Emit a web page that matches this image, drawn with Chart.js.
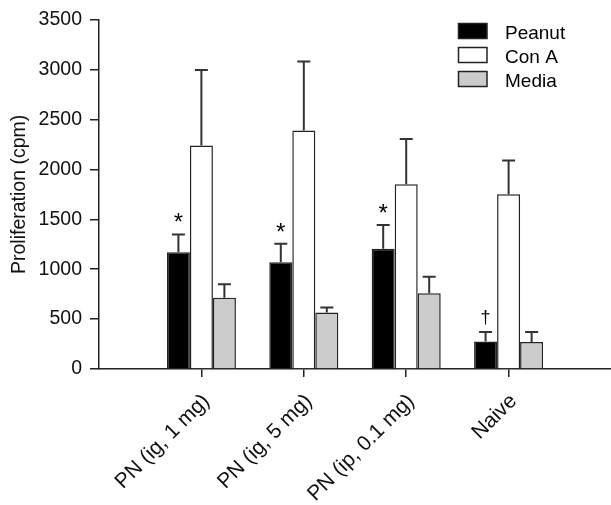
<!DOCTYPE html>
<html>
<head>
<meta charset="utf-8">
<script src="https://cdn.jsdelivr.net/npm/chart.js@4/dist/chart.umd.min.js"></script>
<style>
  html, body { margin: 0; padding: 0; background: #fff; overflow: hidden; }
  #wrap { width: 611px; height: 505px; position: relative; }
  canvas { display: block; }
</style>
</head>
<body>
<div id="wrap"><canvas id="chart"></canvas></div>
<script>
// groups on the x axis
const groups = ['PN (ig, 1 mg)', 'PN (ig, 5 mg)', 'PN (ip, 0.1 mg)', 'Naive'];

// mean values (cpm)
const peanut = [1170, 1070, 1205, 275];
const conA = [2240, 2390, 1850, 1750];
const media = [715, 565, 760, 270];

// upper end of the error bars (mean + SEM)
const peanutErr = [1348, 1256, 1443, 370];
const conAErr = [2996, 3080, 2305, 2090];
const mediaErr = [850, 617, 925, 370];

// significance marks above the peanut bars
const peanutMarks = ['*', '*', '*', '\u2020'];

const yTicks = [0, 500, 1000, 1500, 2000, 2500, 3000, 3500];

const FONT = '"Liberation Sans", Arial, sans-serif';
const INK = '#222';

// pad with an empty slot on each side so the axis runs from the y axis to the edge
const pad = arr => [null, ...arr, null];
const labels = ['', ...groups, ''];

const errorBars = {
  id: 'errorBars',
  afterDatasetsDraw(chart) {
    const ctx = chart.ctx;
    const y = chart.scales.y;
    ctx.save();
    chart.data.datasets.forEach((ds, i) => {
      const meta = chart.getDatasetMeta(i);
      meta.data.forEach((bar, j) => {
        const top = ds.errTop[j];
        if (top == null || ds.data[j] == null) {
          return;
        }
        const capY = y.getPixelForValue(top);
        ctx.strokeStyle = '#333';
        ctx.lineWidth = 2;
        ctx.beginPath();
        ctx.moveTo(bar.x, bar.y);
        ctx.lineTo(bar.x, capY);
        ctx.moveTo(bar.x - 6.5, capY);
        ctx.lineTo(bar.x + 6.5, capY);
        ctx.stroke();

        const mark = ds.marks && ds.marks[j];
        if (mark) {
          ctx.fillStyle = '#000';
          ctx.textAlign = 'center';
          ctx.textBaseline = 'alphabetic';
          if (mark === '*') {
            ctx.font = '24px ' + FONT;
            ctx.fillText(mark, bar.x, capY - 4);
          } else {
            ctx.font = '18px ' + FONT;
            ctx.fillText(mark, bar.x, capY - 9);
          }
        }
      });
    });
    ctx.restore();
  }
};

const boxLegend = {
  id: 'boxLegend',
  afterDraw(chart) {
    const ctx = chart.ctx;
    ctx.save();
    chart.data.datasets.forEach((ds, i) => {
      const top = 23.5 + i * 24;
      ctx.fillStyle = ds.backgroundColor;
      ctx.fillRect(458.5, top, 28.5, 15);
      ctx.strokeStyle = INK;
      ctx.lineWidth = 1.5;
      ctx.strokeRect(458.5, top, 28.5, 15);
      ctx.fillStyle = '#000';
      ctx.font = '19px ' + FONT;
      ctx.textAlign = 'left';
      ctx.textBaseline = 'alphabetic';
      ctx.fillText(ds.label, 505, top + 15);
    });
    ctx.restore();
  }
};

function series(label, values, errs, color, marks) {
  return {
    label: label,
    data: pad(values),
    errTop: pad(errs),
    marks: marks ? pad(marks) : null,
    backgroundColor: color,
    borderColor: INK,
    borderWidth: 1.5,
    barPercentage: 1,
    categoryPercentage: 0.674
  };
}

new Chart(document.getElementById('chart').getContext('2d'), {
  type: 'bar',
  data: {
    labels: labels,
    datasets: [
      series('Peanut', peanut, peanutErr, '#000000', peanutMarks),
      series('Con A', conA, conAErr, '#ffffff'),
      series('Media', media, mediaErr, '#cccccc')
    ]
  },
  options: {
    responsive: true,
    maintainAspectRatio: false,
    animation: false,
    layout: {
      padding: { top: 17, right: 0, left: 0, bottom: 0 }
    },
    scales: {
      x: {
        offset: false,
        afterFit: scale => {
          scale.height = 136;
          // the empty end slots should not reserve room for labels
          scale.paddingLeft = 0;
          scale.paddingRight = 0;
        },
        grid: {
          display: true,
          offset: false,
          drawOnChartArea: false,
          drawTicks: true,
          tickLength: 8,
          lineWidth: 1.5,
          color: c => (c.index === 0 || c.index === labels.length - 1) ? 'rgba(0,0,0,0)' : INK
        },
        border: { display: true, color: INK, width: 1.5 },
        ticks: {
          autoSkip: false,
          minRotation: 45,
          maxRotation: 45,
          padding: 12,
          labelOffset: 5,
          color: '#111',
          font: { family: FONT, size: 21 }
        }
      },
      y: {
        min: 0,
        max: 3500,
        afterFit: scale => { scale.width = 99; },
        afterBuildTicks: scale => { scale.ticks = yTicks.map(v => ({ value: v })); },
        grid: {
          display: true,
          drawOnChartArea: false,
          drawTicks: true,
          tickLength: 9,
          lineWidth: 1.5,
          color: INK
        },
        border: { display: true, color: INK, width: 1.5 },
        ticks: {
          padding: 8,
          color: '#111',
          font: { family: FONT, size: 19.5 },
          callback: v => String(v)
        },
        title: {
          display: true,
          text: 'Proliferation (cpm)',
          color: '#111',
          font: { family: FONT, size: 19.5 },
          padding: { top: 8, bottom: 0 }
        }
      }
    },
    plugins: {
      legend: { display: false },
      tooltip: { enabled: false }
    }
  },
  plugins: [errorBars, boxLegend]
});
</script>
</body>
</html>
